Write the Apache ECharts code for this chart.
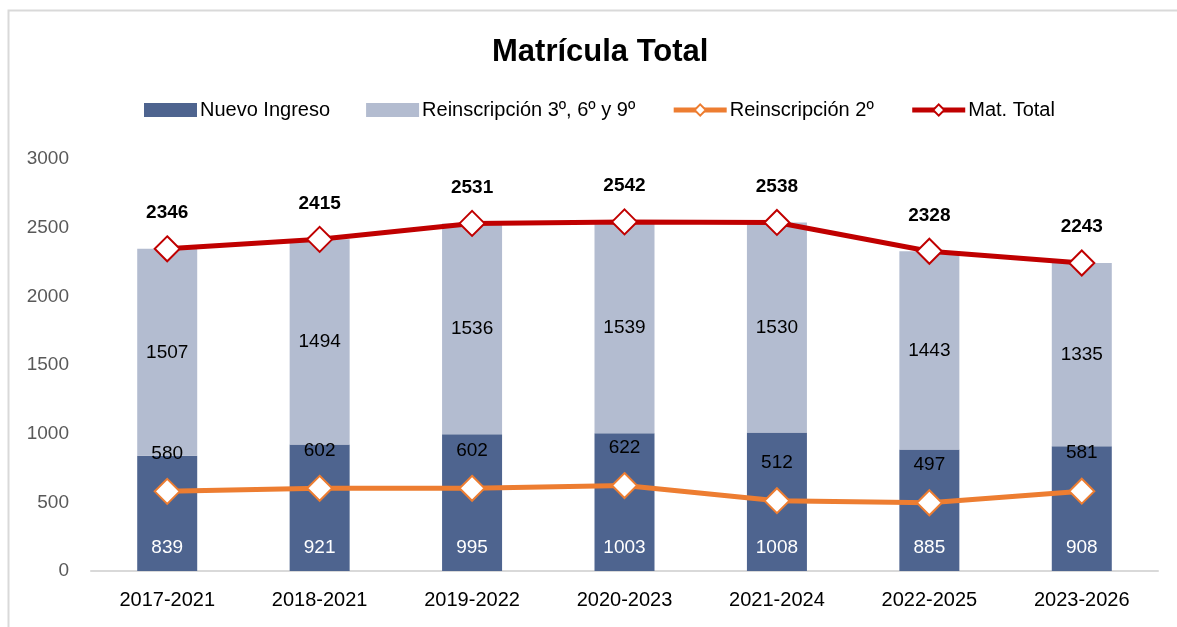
<!DOCTYPE html>
<html>
<head>
<meta charset="utf-8">
<script src="https://cdn.jsdelivr.net/npm/echarts@6/dist/echarts.min.js"></script>
<style>
html,body{margin:0;padding:0;background:#fff;}
#c{width:1177px;height:627px;}
</style>
</head>
<body>
<div id="c"></div>
<script>
const categories = ['2017-2021','2018-2021','2019-2022','2020-2023','2021-2024','2022-2025','2023-2026'];
const nuevoIngreso = [839, 921, 995, 1003, 1008, 885, 908];
const reinscripcion369 = [1507, 1494, 1536, 1539, 1530, 1443, 1335];
const reinscripcion2 = [580, 602, 602, 622, 512, 497, 581];
const matTotal = [2346, 2415, 2531, 2542, 2538, 2328, 2243];
const yTicks = {min: 0, max: 3000, interval: 500};

const FONT = "'Liberation Sans', Arial, sans-serif";
const chart = echarts.init(document.getElementById('c'), null, {renderer: 'canvas'});
chart.setOption({
  backgroundColor: '#fff',
  animation: false,
  textStyle: {fontFamily: FONT},
  graphic: [{
    type: 'rect', silent: true,
    shape: {x: 8.5, y: 10.5, width: 1200, height: 700},
    style: {fill: 'none', stroke: '#d9d9d9', lineWidth: 2}
  }],
  title: {
    text: 'Matrícula Total',
    left: 487, top: 32,
    textStyle: {fontFamily: FONT, fontSize: 31, fontWeight: 'bold', color: '#000'}
  },
  legend: {
    left: 144, top: 100, padding: 0,
    itemWidth: 53, itemHeight: 14, itemGap: 36,
    textStyle: {fontFamily: FONT, fontSize: 20, color: '#000', padding: [0,0,0,-2]},
    data: [
      {name: 'Nuevo Ingreso', icon: 'rect'},
      {name: 'Reinscripción 3º, 6º y 9º', icon: 'rect'},
      {name: 'Reinscripción 2º', lineStyle: {width: 5}, itemStyle: {borderWidth: 2}},
      {name: 'Mat. Total', lineStyle: {width: 5}, itemStyle: {borderWidth: 2}}
    ]
  },
  grid: {left: 91, right: 19, top: 159, bottom: 56, containLabel: false},
  xAxis: {
    type: 'category', data: categories,
    axisLine: {lineStyle: {color: '#d9d9d9', width: 2}},
    axisTick: {show: false},
    axisLabel: {fontFamily: FONT, fontSize: 20, color: '#000', margin: 19}
  },
  yAxis: {
    type: 'value', min: yTicks.min, max: yTicks.max, interval: yTicks.interval,
    axisLine: {show: false}, axisTick: {show: false},
    splitLine: {show: false},
    axisLabel: {fontFamily: FONT, fontSize: 19, color: '#595959', margin: 22, formatter: v => String(v)}
  },
  series: [
    {
      name: 'Nuevo Ingreso', type: 'bar', stack: 'a', barWidth: 60,
      data: nuevoIngreso,
      itemStyle: {color: '#4e648f'},
      label: {show: true, position: 'insideBottom', distance: 14, color: '#fff', fontFamily: FONT, fontSize: 19}
    },
    {
      name: 'Reinscripción 3º, 6º y 9º', type: 'bar', stack: 'a', barWidth: 60,
      data: reinscripcion369,
      itemStyle: {color: '#b3bcd0'},
      label: {show: true, position: 'inside', color: '#000', fontFamily: FONT, fontSize: 19}
    },
    {
      name: 'Reinscripción 2º', type: 'line', data: reinscripcion2, z: 5,
      symbol: 'diamond', symbolSize: 25,
      lineStyle: {color: '#ed7d31', width: 5},
      itemStyle: {color: '#fff', borderColor: '#ed7d31', borderWidth: 2},
      label: {show: true, position: 'top', distance: 15, color: '#000', fontFamily: FONT, fontSize: 19}
    },
    {
      name: 'Mat. Total', type: 'line', data: matTotal, z: 6,
      symbol: 'diamond', symbolSize: 25,
      lineStyle: {color: '#c00000', width: 5},
      itemStyle: {color: '#fff', borderColor: '#c00000', borderWidth: 2},
      label: {show: true, position: 'top', distance: 13, color: '#000', fontFamily: FONT, fontSize: 19, fontWeight: 'bold'}
    }
  ]
});
</script>
</body>
</html>
